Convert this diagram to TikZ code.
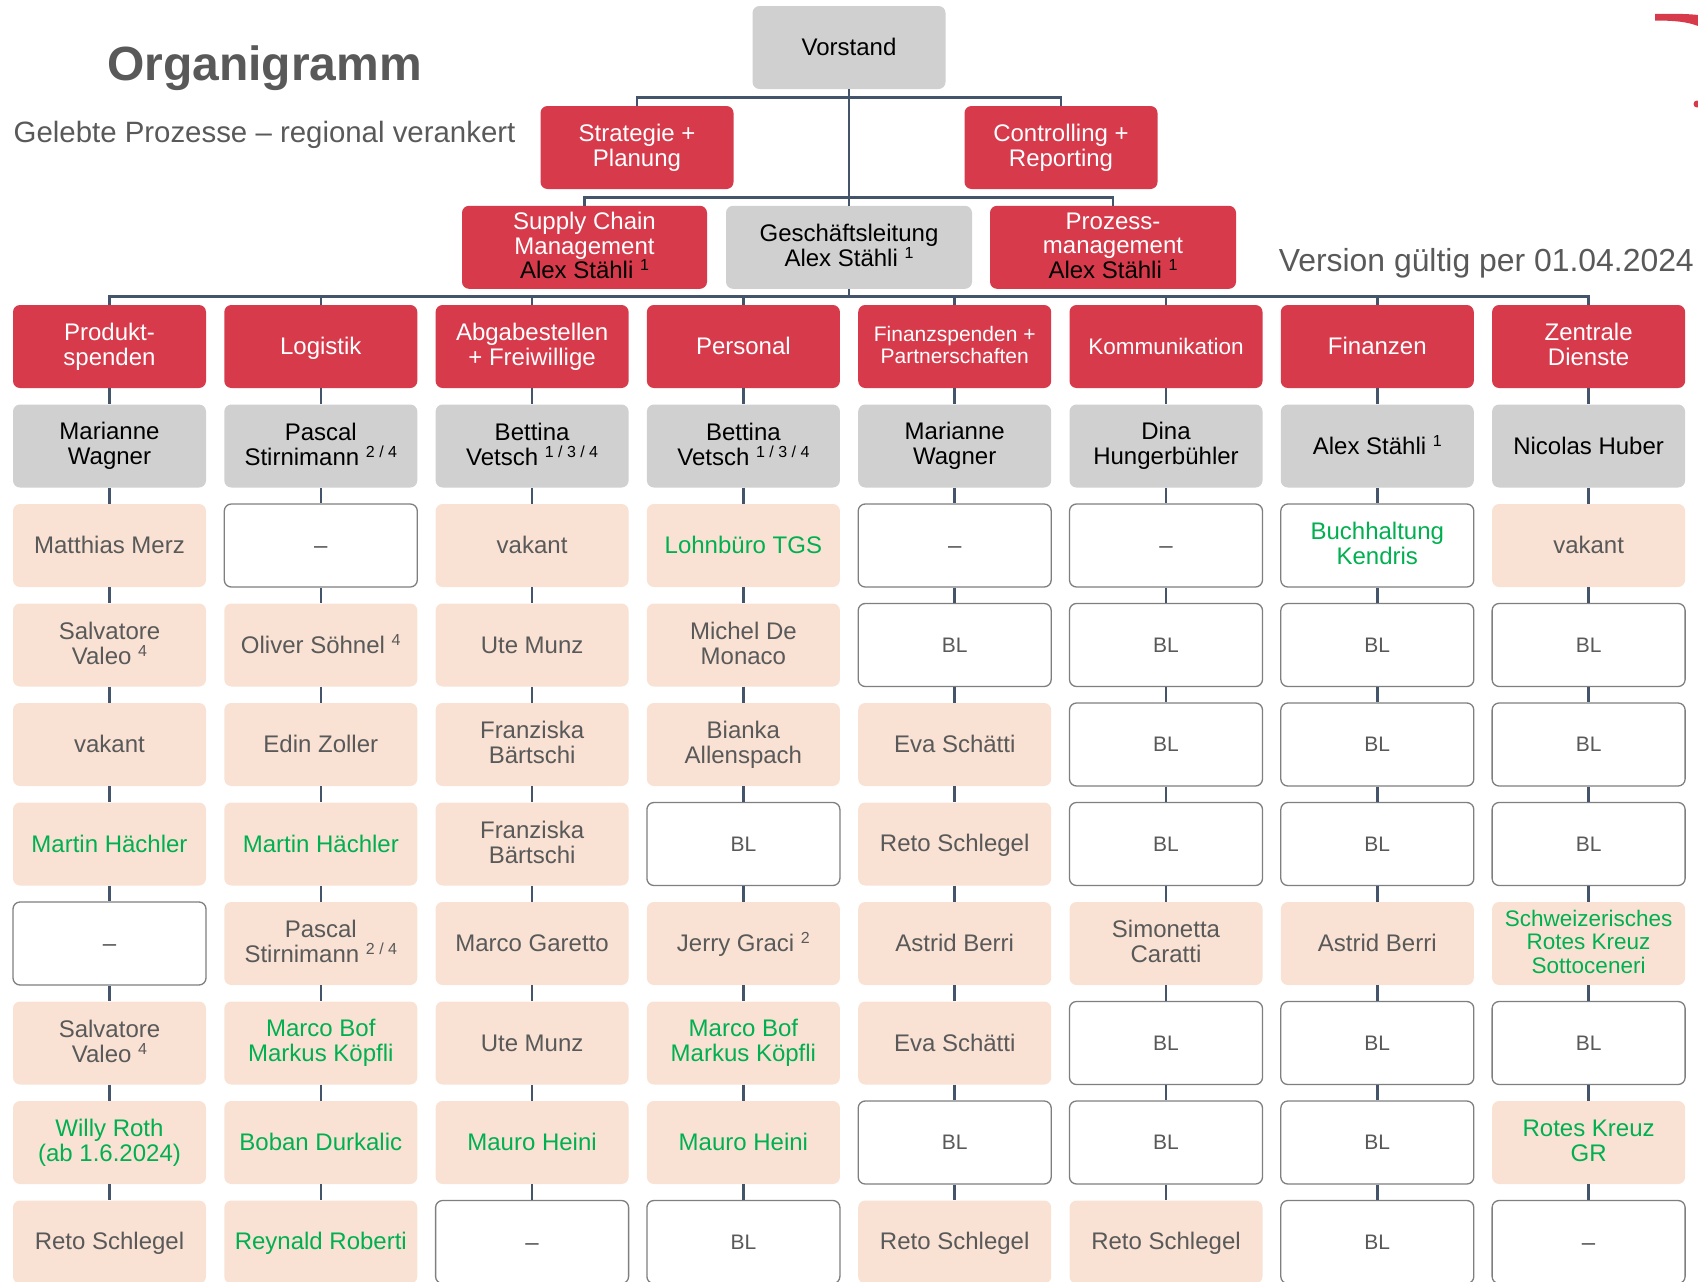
\documentclass[tikz,border=0pt]{standalone}
\usepackage{fontspec}
\setmainfont{Liberation Sans}
\definecolor{orgred}{HTML}{D73A4B}
\definecolor{boxgray}{HTML}{D0D0D0}
\definecolor{peachc}{HTML}{F9E2D4}
\definecolor{txtgray}{HTML}{595959}
\definecolor{grn}{HTML}{00B050}
\definecolor{linec}{HTML}{44546A}
\definecolor{bordergray}{HTML}{7F7F7F}
\newcommand{\fsz}[2]{\fontsize{#1}{#2}\selectfont}
\newcommand{\sups}[1]{\raisebox{8pt}{\fsz{16}{16}#1}}
\newcommand{\lstrut}{\rule[-0.155em]{0pt}{1.005em}}
\tikzset{
  box/.style={rounded corners=7pt, minimum width=193pt, minimum height=83pt, inner sep=0pt, align=center, font=\fsz{24}{25},
    execute at begin node=\lstrut, execute at end node=\lstrut},
  redbox/.style={box, fill=orgred, text=white},
  graybox/.style={box, fill=boxgray, text=black},
  peach/.style={box, fill=peachc, text=txtgray},
  peachg/.style={box, fill=peachc, text=grn},
  wbox/.style={box, fill=white, draw=bordergray, line width=1.3pt, text=txtgray},
  wboxg/.style={wbox, text=grn},
  bl/.style={wbox, font=\fsz{21}{22}},
  conn/.style={draw=linec, line width=2.5pt},
}
\newcommand{\cell}[4]{\node[#3] (n#1-#2) at ({109.5+211.3*(#1-1)},{346.5+99.5*(#2)}) {#4};}
\begin{document}
\begin{tikzpicture}[x=1pt,y=-1pt]
\useasboundingbox (0,0) rectangle (1698,1282);
% titles
\node[anchor=base west, inner sep=0pt, text=txtgray, font=\fsz{48}{50}\bfseries] (title) at (107,80) {Organigramm};
\node[anchor=base west, inner sep=0pt, text=txtgray, font=\fsz{29.4}{31}] (sub) at (13.5,142.7) {Gelebte Prozesse -- regional verankert};
\node[anchor=base east, inner sep=0pt, text=txtgray, font=\fsz{31.9}{33}] (ver) at (1694,271.7) {Version gültig per 01.04.2024};
% logo fragment
\fill[orgred] (1655,14) .. controls (1675,13.5) and (1690,14) .. (1698,15) -- (1698,26) .. controls (1688,22) and (1675,20.5) .. (1655,20.5) -- cycle;
\fill[orgred] (1697,104) circle (3.5);
% top structure
\node[graybox] (V) at (849,47.5) {Vorstand};
\node[redbox] (S) at (637,147.5) {Strategie +\\Planung};
\node[redbox] (C) at (1061,147.5) {Controlling +\\Reporting};
\node[redbox, minimum width=245pt, font=\fsz{24}{24.5}] (SC) at (584.5,247.3) {Supply Chain\\Management\\{\color{black}Alex Stähli \sups{1}}};
\node[graybox, minimum width=246pt] (GL) at (849,247.3) {Geschäftsleitung\\Alex Stähli \sups{1}};
\node[redbox, minimum width=246pt, font=\fsz{24}{24.5}] (PM) at (1113,247.3) {Prozess-\\management\\{\color{black}Alex Stähli \sups{1}}};
\coordinate (j1) at (849,97.7);
\coordinate (j2) at (849,197.7);
\coordinate (j3) at (849,296.7);
% departments
\cell{1}{0}{redbox}{Produkt-\\spenden}
\cell{2}{0}{redbox}{Logistik}
\cell{3}{0}{redbox}{Abgabestellen\\+ Freiwillige}
\cell{4}{0}{redbox}{Personal}
\cell{5}{0}{redbox, font=\fsz{21}{22}}{Finanzspenden +\\Partnerschaften}
\cell{6}{0}{redbox, font=\fsz{22.5}{24}}{Kommunikation}
\cell{7}{0}{redbox}{Finanzen}
\cell{8}{0}{redbox}{Zentrale\\Dienste}
% heads
\cell{1}{1}{graybox}{Marianne\\Wagner}
\cell{2}{1}{graybox}{Pascal\\Stirnimann \sups{2 / 4}}
\cell{3}{1}{graybox}{Bettina\\Vetsch \sups{1 / 3 / 4}}
\cell{4}{1}{graybox}{Bettina\\Vetsch \sups{1 / 3 / 4}}
\cell{5}{1}{graybox}{Marianne\\Wagner}
\cell{6}{1}{graybox}{Dina\\Hungerbühler}
\cell{7}{1}{graybox}{Alex Stähli \sups{1}}
\cell{8}{1}{graybox}{Nicolas Huber}
% column 1
\cell{1}{2}{peach}{Matthias Merz}
\cell{1}{3}{peach}{Salvatore\\Valeo \sups{4}}
\cell{1}{4}{peach}{vakant}
\cell{1}{5}{peachg}{Martin Hächler}
\cell{1}{6}{wbox}{--}
\cell{1}{7}{peach}{Salvatore\\Valeo \sups{4}}
\cell{1}{8}{peachg}{Willy Roth\\(ab 1.6.2024)}
\cell{1}{9}{peach}{Reto Schlegel}
% column 2
\cell{2}{2}{wbox}{--}
\cell{2}{3}{peach}{Oliver Söhnel \sups{4}}
\cell{2}{4}{peach}{Edin Zoller}
\cell{2}{5}{peachg}{Martin Hächler}
\cell{2}{6}{peach}{Pascal\\Stirnimann \sups{2 / 4}}
\cell{2}{7}{peachg}{Marco Bof\\Markus Köpfli}
\cell{2}{8}{peachg}{Boban Durkalic}
\cell{2}{9}{peachg}{Reynald Roberti}
% column 3
\cell{3}{2}{peach}{vakant}
\cell{3}{3}{peach}{Ute Munz}
\cell{3}{4}{peach}{Franziska\\Bärtschi}
\cell{3}{5}{peach}{Franziska\\Bärtschi}
\cell{3}{6}{peach}{Marco Garetto}
\cell{3}{7}{peach}{Ute Munz}
\cell{3}{8}{peachg}{Mauro Heini}
\cell{3}{9}{wbox}{--}
% column 4
\cell{4}{2}{peachg}{Lohnbüro TGS}
\cell{4}{3}{peach}{Michel De\\Monaco}
\cell{4}{4}{peach}{Bianka\\Allenspach}
\cell{4}{5}{bl}{BL}
\cell{4}{6}{peach}{Jerry Graci \sups{2}}
\cell{4}{7}{peachg}{Marco Bof\\Markus Köpfli}
\cell{4}{8}{peachg}{Mauro Heini}
\cell{4}{9}{bl}{BL}
% column 5
\cell{5}{2}{wbox}{--}
\cell{5}{3}{bl}{BL}
\cell{5}{4}{peach}{Eva Schätti}
\cell{5}{5}{peach}{Reto Schlegel}
\cell{5}{6}{peach}{Astrid Berri}
\cell{5}{7}{peach}{Eva Schätti}
\cell{5}{8}{bl}{BL}
\cell{5}{9}{peach}{Reto Schlegel}
% column 6
\cell{6}{2}{wbox}{--}
\cell{6}{3}{bl}{BL}
\cell{6}{4}{bl}{BL}
\cell{6}{5}{bl}{BL}
\cell{6}{6}{peach}{Simonetta\\Caratti}
\cell{6}{7}{bl}{BL}
\cell{6}{8}{bl}{BL}
\cell{6}{9}{peach}{Reto Schlegel}
% column 7
\cell{7}{2}{wboxg}{Buchhaltung\\Kendris}
\cell{7}{3}{bl}{BL}
\cell{7}{4}{bl}{BL}
\cell{7}{5}{bl}{BL}
\cell{7}{6}{peach}{Astrid Berri}
\cell{7}{7}{bl}{BL}
\cell{7}{8}{bl}{BL}
\cell{7}{9}{bl}{BL}
% column 8
\cell{8}{2}{peach}{vakant}
\cell{8}{3}{bl}{BL}
\cell{8}{4}{bl}{BL}
\cell{8}{5}{bl}{BL}
\cell{8}{6}{peachg, font=\fsz{22.5}{23.8}}{Schweizerisches\\Rotes Kreuz\\Sottoceneri}
\cell{8}{7}{bl}{BL}
\cell{8}{8}{peachg}{Rotes Kreuz\\GR}
\cell{8}{9}{wbox}{--}
% connectors
\draw[conn] (V.south) -- (GL.north);
\draw[conn] (GL.south) -- (j3);
\draw[conn] (S.north) |- (j1) -| (C.north);
\draw[conn] (SC.north) |- (j2) -| (PM.north);
\draw[conn] (n1-0.north) |- (j3) -| (n8-0.north);
\foreach \c in {2,...,7} {\draw[conn] (n\c-0.north) -- (n\c-0.north |- j3);}
\foreach \c in {1,...,8} {
  \foreach \r [evaluate=\r as \s using int(\r+1)] in {0,...,8} {
    \draw[conn] (n\c-\r.south) -- (n\c-\s.north);
  }
}
\end{tikzpicture}
\end{document}
